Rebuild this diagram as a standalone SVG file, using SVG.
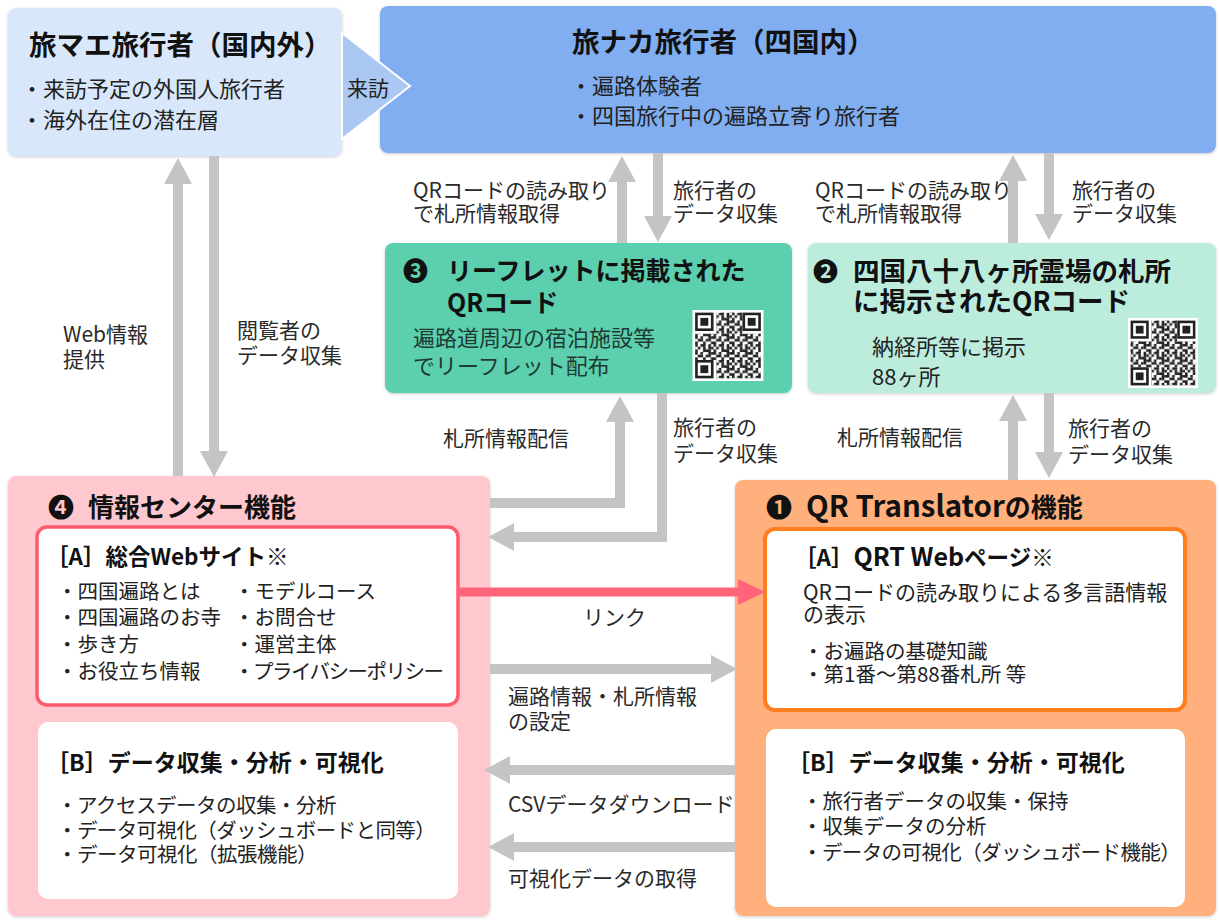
<svg xmlns="http://www.w3.org/2000/svg" width="1220" height="920" viewBox="0 0 1220 920">
<defs>
<style>
text{font-family:"Noto Sans CJK JP","DejaVu Sans",sans-serif;fill:#222}
.tt{font-size:27.5px;font-weight:bold;fill:#111}
.h{font-size:25px;font-weight:bold;fill:#111}
.s{font-size:22.5px;font-weight:bold;fill:#111}
.b{font-size:22px}
.m{font-size:20.5px}
.l{font-size:21px;fill:#2a2a2a}
.dk{fill:#1e3b33}
.g{stroke:#c4c4c4;stroke-width:10;fill:none;marker-end:url(#ga)}
.box{filter:url(#sh)}
</style>
<filter id="sh" x="-5%" y="-5%" width="110%" height="115%"><feDropShadow dx="0" dy="1" stdDeviation="1.5" flood-color="#000" flood-opacity="0.2"/></filter>
<marker id="ga" markerUnits="userSpaceOnUse" viewBox="0 0 26 28" refX="0" refY="14" markerWidth="26" markerHeight="28" orient="auto"><path d="M0,0L26,14L0,28z" fill="#c4c4c4"/></marker>
<marker id="pa" markerUnits="userSpaceOnUse" viewBox="0 0 27 26" refX="0" refY="13" markerWidth="27" markerHeight="26" orient="auto"><path d="M0,0L27,13L0,26z" fill="#ff6478"/></marker>
<pattern id="qp" width="7" height="6" patternUnits="userSpaceOnUse">
<g fill="#222">
<rect x="0" y="0" width="1" height="1"/><rect x="2" y="0" width="2" height="1"/><rect x="5" y="0" width="1" height="2"/>
<rect x="1" y="1" width="1" height="1"/><rect x="3" y="1" width="1" height="2"/><rect x="6" y="1" width="1" height="1"/>
<rect x="0" y="2" width="1" height="2"/><rect x="4" y="2" width="2" height="1"/>
<rect x="2" y="3" width="1" height="1"/><rect x="5" y="3" width="1" height="2"/><rect x="6" y="3" width="1" height="1"/>
<rect x="1" y="4" width="2" height="1"/><rect x="4" y="4" width="1" height="1"/>
<rect x="0" y="5" width="1" height="1"/><rect x="3" y="5" width="1" height="1"/><rect x="6" y="5" width="1" height="1"/>
</g>
</pattern>
<symbol id="qr" viewBox="-1 -1 27 27">
<rect x="-1" y="-1" width="27" height="27" fill="#fff"/>
<rect x="8" y="0" width="10" height="8" fill="url(#qp)"/>
<rect x="0" y="8" width="25" height="10" fill="url(#qp)"/>
<rect x="8" y="18" width="17" height="7" fill="url(#qp)"/>
<g id="fp">
<rect x="0" y="0" width="7" height="7" fill="#222"/><rect x="1" y="1" width="5" height="5" fill="#fff"/><rect x="2" y="2" width="3" height="3" fill="#222"/>
</g>
<use href="#fp" x="18"/>
<use href="#fp" y="18"/>
</symbol>
</defs>
<rect width="1220" height="920" fill="#fff"/>

<g id="n-tabinaka">
<rect class="box" x="380" y="6" width="836" height="147" rx="8" fill="#80aef0"/>
<text class="tt" x="572" y="52">旅ナカ旅行者（四国内）</text>
<text class="b" x="570" y="94">・遍路体験者</text>
<text class="b" x="570" y="124">・四国旅行中の遍路立寄り旅行者</text>
</g>

<g id="n-tabimae">
<rect class="box" x="8" y="8" width="334" height="148" rx="8" fill="#d9e7fa"/>
<text class="tt" x="29" y="55">旅マエ旅行者（国内外）</text>
<text class="b" x="21" y="97">・来訪予定の外国人旅行者</text>
<text class="b" x="21" y="128">・海外在住の潜在層</text>
</g>

<g id="n-leaflet">
<rect class="box" x="385" y="243" width="407" height="150" rx="8" fill="#5ccfae"/>
<text class="h" x="403" y="280">❸</text>
<text class="h" x="447" y="280">リーフレットに掲載された</text>
<text class="h" x="447" y="312">QRコード</text>
<text class="b dk" x="413" y="346">遍路道周辺の宿泊施設等</text>
<text class="b dk" x="413" y="374">でリーフレット配布</text>
<use href="#qr" x="692" y="310" width="72" height="71"/>
</g>

<g id="n-fudasho">
<rect class="box" x="808" y="243" width="408" height="150" rx="8" fill="#bcecdc"/>
<text class="h" x="813" y="281">❷</text>
<text class="h" x="853" y="281" style="font-size:26.5px">四国八十八ヶ所霊場の札所</text>
<text class="h" x="853" y="311" style="font-size:26.5px">に掲示されたQRコード</text>
<text class="b" x="872" y="355">納経所等に掲示</text>
<text class="b" x="872" y="385">88ヶ所</text>
<use href="#qr" x="1128" y="318" width="70" height="70"/>
</g>

<g id="n-center">
<rect class="box" x="8" y="476" width="482" height="440" rx="8" fill="#ffc8cf"/>
<text class="h" x="48" y="517" style="font-size:26px">❹</text>
<text class="h" x="88" y="517" style="font-size:26px">情報センター機能</text>
<rect x="37" y="527" width="421" height="178" rx="10" fill="#fff" stroke="#ff5a6e" stroke-width="3.5"/>
<text class="s" x="46" y="565">［A］総合Webサイト※</text>
<text class="m" x="57" y="599">・四国遍路とは</text>
<text class="m" x="57" y="625">・四国遍路のお寺</text>
<text class="m" x="57" y="652">・歩き方</text>
<text class="m" x="57" y="679">・お役立ち情報</text>
<text class="m" x="234" y="599">・モデルコース</text>
<text class="m" x="234" y="625">・お問合せ</text>
<text class="m" x="234" y="652">・運営主体</text>
<text class="m" x="234" y="679" style="letter-spacing:-1.5px">・プライバシーポリシー</text>
<rect x="38" y="722" width="420" height="177" rx="10" fill="#fff"/>
<text class="s" x="46" y="771" style="font-size:23px">［B］データ収集・分析・可視化</text>
<text class="m" x="57" y="813" style="letter-spacing:-0.5px">・アクセスデータの収集・分析</text>
<text class="m" x="57" y="838" style="letter-spacing:-0.6px">・データ可視化（ダッシュボードと同等）</text>
<text class="m" x="57" y="862" style="letter-spacing:-0.5px">・データ可視化（拡張機能）</text>
</g>

<g id="n-qrt">
<rect class="box" x="735" y="480" width="481" height="436" rx="8" fill="#ffb07c"/>
<text class="h" x="766" y="517" style="font-size:26px">❶</text>
<text class="h" x="806" y="517" style="font-size:26px"><tspan style="font-size:29.5px">QR Translator</tspan>の機能</text>
<rect x="765" y="529" width="420" height="181" rx="10" fill="#fff" stroke="#ff7d1e" stroke-width="4"/>
<text class="s" x="794" y="566">［A］<tspan style="font-size:25px">QRT Web</tspan>ページ※</text>
<text class="b" x="803" y="600" style="font-size:21px">QRコードの読み取りによる多言語情報</text>
<text class="b" x="803" y="622" style="font-size:21px">の表示</text>
<text class="m" x="803" y="659">・お遍路の基礎知識</text>
<text class="m" x="803" y="682">・第1番～第88番札所 等</text>
<rect x="766" y="729" width="419" height="178" rx="10" fill="#fff"/>
<text class="s" x="787" y="771" style="font-size:23px">［B］データ収集・分析・可視化</text>
<text class="m" x="802" y="809">・旅行者データの収集・保持</text>
<text class="m" x="802" y="834">・収集データの分析</text>
<text class="m" x="802" y="860" style="letter-spacing:-0.6px">・データの可視化（ダッシュボード機能）</text>
</g>

<g id="connectors">
<polygon points="342,33 410,86 342,139" fill="#aac8f2" stroke="#fff" stroke-width="2"/>
<text class="b" x="347" y="96" style="font-size:21px">来訪</text>

<line class="g" x1="178" y1="476" x2="178" y2="184"/>
<line class="g" x1="214" y1="156" x2="214" y2="451"/>
<text class="l" x="63" y="342">Web情報</text>
<text class="l" x="63" y="367">提供</text>
<text class="l" x="237" y="338">閲覧者の</text>
<text class="l" x="237" y="363">データ収集</text>

<line class="g" x1="622" y1="243" x2="622" y2="182"/>
<line class="g" x1="658" y1="153" x2="658" y2="216"/>
<text class="l" x="413" y="198">QRコードの読み取り</text>
<text class="l" x="413" y="221">で札所情報取得</text>
<text class="l" x="673" y="198">旅行者の</text>
<text class="l" x="673" y="221">データ収集</text>

<line class="g" x1="1013" y1="243" x2="1013" y2="181"/>
<line class="g" x1="1049" y1="153" x2="1049" y2="214"/>
<text class="l" x="815" y="198">QRコードの読み取り</text>
<text class="l" x="815" y="221">で札所情報取得</text>
<text class="l" x="1072" y="198">旅行者の</text>
<text class="l" x="1072" y="221">データ収集</text>

<path class="g" d="M490,503H620V422" stroke-linejoin="miter"/>
<path class="g" d="M662,393V537H514" stroke-linejoin="miter"/>
<text class="l" x="443" y="446">札所情報配信</text>
<text class="l" x="673" y="435">旅行者の</text>
<text class="l" x="673" y="461">データ収集</text>

<line class="g" x1="1013" y1="480" x2="1013" y2="421"/>
<line class="g" x1="1049" y1="393" x2="1049" y2="452"/>
<text class="l" x="837" y="445">札所情報配信</text>
<text class="l" x="1068" y="436">旅行者の</text>
<text class="l" x="1068" y="462">データ収集</text>

<line x1="458" y1="592" x2="738" y2="592" stroke="#ff6478" stroke-width="9" marker-end="url(#pa)"/>
<text class="l" x="583" y="625">リンク</text>

<line class="g" x1="490" y1="669" x2="711" y2="669"/>
<text class="l" x="508" y="704">遍路情報・札所情報</text>
<text class="l" x="508" y="729">の設定</text>

<line class="g" x1="735" y1="770" x2="510" y2="770"/>
<text class="l" x="508" y="812">CSVデータダウンロード</text>

<line class="g" x1="735" y1="847" x2="514" y2="847"/>
<text class="l" x="508" y="886">可視化データの取得</text>
</g>
</svg>
